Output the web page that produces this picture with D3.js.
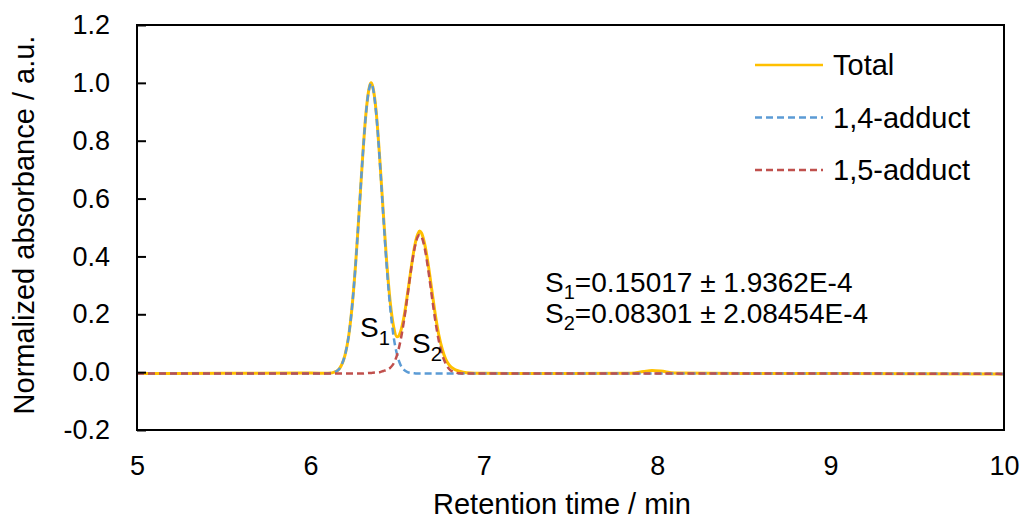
<!DOCTYPE html>
<html>
<head>
<meta charset="utf-8">
<script src="https://cdn.jsdelivr.net/npm/d3@7"></script>
<style>
  body { margin: 0; background: #fff; }
  text { font-family: "Liberation Sans", Arial, sans-serif; fill: #000; }
</style>
</head>
<body>
<svg id="chart" width="1027" height="521"></svg>
<script>
// retention time grid (min)
var times = [5, 5.5, 6, 6.1, 6.15, 6.18, 6.2, 6.22, 6.24, 6.26, 6.28, 6.3, 6.32, 6.34, 6.35, 6.36, 6.38, 6.4,
  6.42, 6.44, 6.46, 6.48, 6.5, 6.52, 6.54, 6.56, 6.58, 6.6, 6.62, 6.63, 6.64, 6.66, 6.68, 6.7, 6.72, 6.74,
  6.76, 6.78, 6.8, 6.83, 6.86, 6.9, 7, 7.5, 7.85, 7.92, 7.97, 8.02, 8.1, 8.5, 9, 10];

var total = [-0.005, -0.004, -0.003, -0.004, 0.003, 0.025, 0.06, 0.122, 0.224, 0.367, 0.545, 0.732, 0.892, 0.985, 1.0, 0.986, 0.896, 0.737,
  0.554, 0.38, 0.244, 0.157, 0.122, 0.14, 0.192, 0.27, 0.355, 0.432, 0.478, 0.488, 0.482, 0.44, 0.37, 0.285, 0.2, 0.13,
  0.08, 0.045, 0.025, 0.01, 0.003, -0.002, -0.004, -0.005, -0.004, 0.002, 0.006, 0.004, -0.003, -0.005, -0.005, -0.006];

var adduct14 = [-0.005, -0.005, -0.005, -0.004, 0.003, 0.025, 0.06, 0.122, 0.224, 0.367, 0.545, 0.732, 0.891, 0.983, 0.998, 0.983, 0.891, 0.732,
  0.545, 0.367, 0.224, 0.122, 0.06, 0.025, 0.008, 0.0, -0.003, -0.004, -0.005, -0.005, -0.005, -0.005, -0.005, -0.005, -0.005, -0.005,
  -0.005, -0.005, -0.005, -0.005, -0.005, -0.005, -0.005, -0.005, -0.005, -0.005, -0.005, -0.005, -0.005, -0.005, -0.005, -0.006];

var adduct15 = [-0.005, -0.005, -0.005, -0.005, -0.005, -0.005, -0.005, -0.005, -0.005, -0.005, -0.005, -0.005, -0.004, -0.003, -0.003, -0.002, -0.001, 0.0,
  0.004, 0.008, 0.015, 0.03, 0.06, 0.11, 0.179, 0.264, 0.352, 0.426, 0.469, 0.475, 0.469, 0.426, 0.352, 0.264, 0.179, 0.11,
  0.06, 0.03, 0.011, 0.0, -0.004, -0.005, -0.005, -0.005, -0.005, -0.005, -0.005, -0.005, -0.005, -0.005, -0.005, -0.006];

var xTicks = [5, 6, 7, 8, 9, 10];
var yTicks = [-0.2, 0, 0.2, 0.4, 0.6, 0.8, 1.0, 1.2];

var seriesInfo = [
  {name: "Total", values: total, color: "#FFC000", dash: null, width: 3},
  {name: "1,4-adduct", values: adduct14, color: "#5B9BD5", dash: "7,4", width: 2.5},
  {name: "1,5-adduct", values: adduct15, color: "#C0504D", dash: "7,4", width: 2.5}
];

var svg = d3.select("#chart");
var plotL = 137, plotR = 1004, plotT = 25, plotB = 430;

var x = d3.scaleLinear().domain([5, 10]).range([plotL, plotR]);
var y = d3.scaleLinear().domain([-0.2, 1.2]).range([plotB, plotT]);

svg.append("clipPath").attr("id", "plotclip")
  .append("rect").attr("x", plotL).attr("y", plotT).attr("width", plotR - plotL).attr("height", plotB - plotT);

// curves
var line = d3.line()
  .x(function(d){ return x(d[0]); })
  .y(function(d){ return y(d[1]); })
  .curve(d3.curveMonotoneX);

var g = svg.append("g").attr("clip-path", "url(#plotclip)");
seriesInfo.forEach(function(s){
  var pts = times.map(function(t, i){ return [t, s.values[i]]; });
  g.append("path")
    .attr("d", line(pts))
    .attr("fill", "none")
    .attr("stroke", s.color)
    .attr("stroke-width", s.width)
    .attr("stroke-dasharray", s.dash);
});

// y axis, ticks pointing inward; plain hyphen for negatives like the original
var yAxis = svg.append("g").attr("transform", "translate(" + plotL + ",0)")
  .call(d3.axisRight(y).tickValues(yTicks).tickSize(9)
    .tickFormat(function(d){ return d.toFixed(1); }));
yAxis.select(".domain").remove();
yAxis.selectAll("line").attr("stroke", "#000").attr("stroke-width", 2);
yAxis.selectAll("text")
  .attr("x", -27).attr("text-anchor", "end")
  .style("font-size", "27px").style("font-family", "Liberation Sans, Arial, sans-serif");

// x axis labels (no tick marks)
var xAxis = svg.append("g").attr("transform", "translate(0," + plotB + ")")
  .call(d3.axisBottom(x).tickValues(xTicks).tickSize(0).tickFormat(d3.format("d")));
xAxis.select(".domain").remove();
xAxis.selectAll("text")
  .attr("y", 26)
  .style("font-size", "27px").style("font-family", "Liberation Sans, Arial, sans-serif");

// frame
svg.append("rect")
  .attr("x", plotL).attr("y", plotT).attr("width", plotR - plotL).attr("height", plotB - plotT)
  .attr("fill", "none").attr("stroke", "#000").attr("stroke-width", 2);

// axis titles
svg.append("text")
  .attr("x", 562).attr("y", 514)
  .attr("text-anchor", "middle")
  .style("font-size", "29px")
  .text("Retention time / min");

svg.append("text")
  .attr("transform", "translate(34,225) rotate(-90)")
  .attr("text-anchor", "middle")
  .style("font-size", "29px")
  .text("Normalized absorbance / a.u.");

// legend
var legend = svg.append("g");
seriesInfo.forEach(function(s, i){
  var ly = 65 + i * 52.5;
  legend.append("line")
    .attr("x1", 755).attr("x2", 823).attr("y1", ly).attr("y2", ly)
    .attr("stroke", s.color).attr("stroke-width", 2.5)
    .attr("stroke-dasharray", s.dash);
  legend.append("text")
    .attr("x", 833).attr("y", ly)
    .attr("dy", "0.35em")
    .style("font-size", "29px")
    .text(s.name);
});

// peak labels
function subLabel(px, py, main, sub, size) {
  var t = svg.append("text").attr("x", px).attr("y", py).style("font-size", size + "px");
  t.append("tspan").text(main);
  t.append("tspan").attr("dy", 8).style("font-size", (size * 0.72) + "px").text(sub);
  return t;
}
subLabel(360, 337, "S", "1", 28);
subLabel(412, 353, "S", "2", 28);

// integration results
var ann = [
  {sub: "1", txt: "=0.15017 ± 1.9362E-4"},
  {sub: "2", txt: "=0.08301 ± 2.08454E-4"}
];
ann.forEach(function(a, i){
  var t = svg.append("text").attr("x", 545).attr("y", 292 + i * 31).style("font-size", "28px");
  t.append("tspan").text("S");
  t.append("tspan").attr("dy", 7).style("font-size", "20px").text(a.sub);
  t.append("tspan").attr("dy", -7).text(a.txt);
});
</script>
</body>
</html>
